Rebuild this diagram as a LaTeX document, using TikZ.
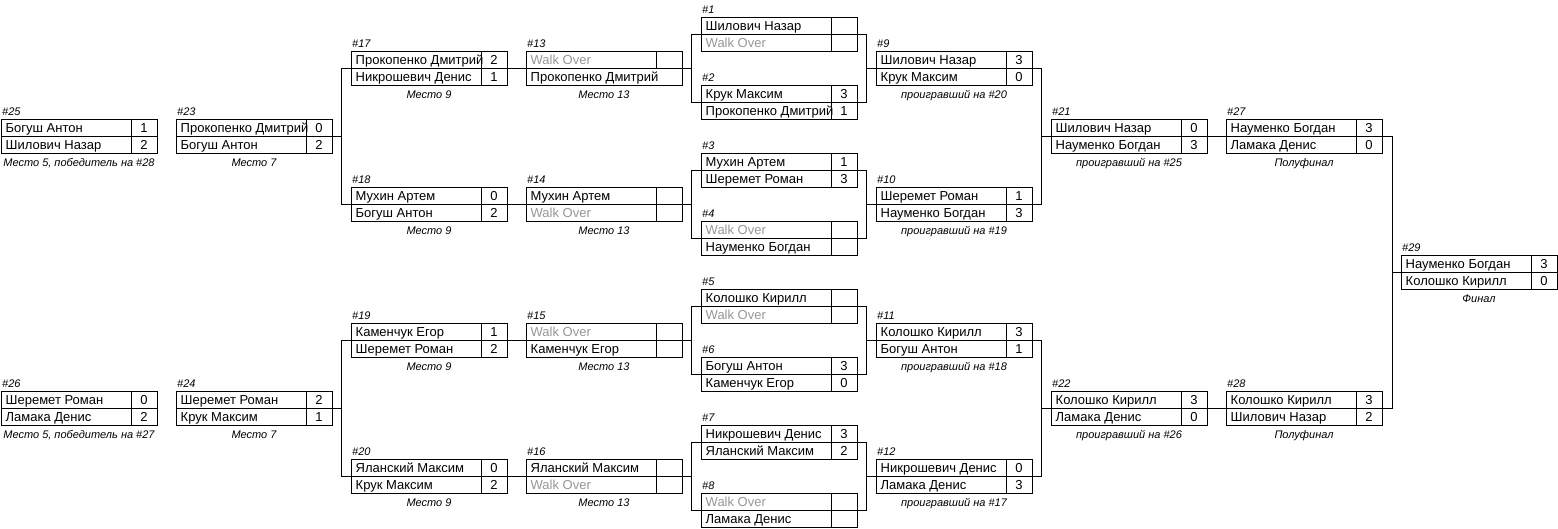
\documentclass[tikz,border=0pt]{standalone}
\usepackage{fontspec}
\setmainfont{Liberation Sans}
\usetikzlibrary{calc}
\definecolor{wogray}{RGB}{150,150,150}
\newcommand\wo{\textcolor{wogray}{Walk Over}}
\newif\ifhidebot
\tikzset{
  conn/.style={line width=1pt, black},
  matchbox/.style={draw, line width=1pt, minimum width=156pt, minimum height=34pt, inner sep=0pt},
  nm/.style={anchor=west, inner sep=0pt, font=\fontsize{13}{13}\selectfont, text height=9.3pt, text depth=0pt},
  sc/.style={anchor=center, inner sep=0pt, font=\fontsize{13}{13}\selectfont, text height=9.3pt, text depth=0pt},
  lbl/.style={anchor=west, inner sep=0pt, font=\fontsize{11}{11}\itshape, text height=8pt, text depth=0pt},
  captxt/.style={anchor=center, inner sep=0pt, font=\fontsize{11}{11}\itshape, text height=8pt, text depth=0pt}
}
\newcommand\match[9]{%
  \pgfmathsetmacro\mL{175*#2+1}%
  \pgfmathsetmacro\mT{17+17*#3}%
  \node[matchbox] (#1) at (\mL+78,\mT+17) {};
  \draw[conn] (\mL,\mT+17) -- (\mL+156,\mT+17);
  \draw[conn] (\mL+130,\mT) -- (\mL+130,\mT+17);
  \ifhidebot\else\draw[conn] (\mL+130,\mT+17) -- (\mL+130,\mT+34);\fi
  \node[nm] (#1a) at (\mL+4.5,\mT+9.3) {#5};
  \node[sc] (#1b) at (\mL+143,\mT+9.3) {#6};
  \node[nm] (#1c) at (\mL+4.5,\mT+26.3) {#7};
  \node[sc] (#1d) at (\mL+143,\mT+26.3) {#8};
  \node[lbl] (#1n) at (\mL+1,\mT-7.7) {\##4};
  \node[captxt] (#1t) at (\mL+78,\mT+43.8) {#9};
}
\begin{document}
\begin{tikzpicture}[x=1pt,y=-1pt]
\useasboundingbox (0,0) rectangle (1558,528);
% column 0
\match{m25}{0}{6}{25}{Богуш Антон}{1}{Шилович Назар}{2}{Место 5, победитель на \#28}
\match{m26}{0}{22}{26}{Шеремет Роман}{0}{Ламака Денис}{2}{Место 5, победитель на \#27}
% column 1
\match{m23}{1}{6}{23}{Прокопенко Дмитрий}{0}{Богуш Антон}{2}{Место 7}
\match{m24}{1}{22}{24}{Шеремет Роман}{2}{Крук Максим}{1}{Место 7}
% column 2
\match{m17}{2}{2}{17}{Прокопенко Дмитрий}{2}{Никрошевич Денис}{1}{Место 9}
\match{m18}{2}{10}{18}{Мухин Артем}{0}{Богуш Антон}{2}{Место 9}
\match{m19}{2}{18}{19}{Каменчук Егор}{1}{Шеремет Роман}{2}{Место 9}
\match{m20}{2}{26}{20}{Яланский Максим}{0}{Крук Максим}{2}{Место 9}
% column 3
\hidebottrue
\match{m13}{3}{2}{13}{\wo}{}{Прокопенко Дмитрий}{}{Место 13}
\hidebotfalse
\match{m14}{3}{10}{14}{Мухин Артем}{}{\wo}{}{Место 13}
\match{m15}{3}{18}{15}{\wo}{}{Каменчук Егор}{}{Место 13}
\match{m16}{3}{26}{16}{Яланский Максим}{}{\wo}{}{Место 13}
% column 4
\match{m1}{4}{0}{1}{Шилович Назар}{}{\wo}{}{}
\match{m2}{4}{4}{2}{Крук Максим}{3}{Прокопенко Дмитрий}{1}{}
\match{m3}{4}{8}{3}{Мухин Артем}{1}{Шеремет Роман}{3}{}
\match{m4}{4}{12}{4}{\wo}{}{Науменко Богдан}{}{}
\match{m5}{4}{16}{5}{Колошко Кирилл}{}{\wo}{}{}
\match{m6}{4}{20}{6}{Богуш Антон}{3}{Каменчук Егор}{0}{}
\match{m7}{4}{24}{7}{Никрошевич Денис}{3}{Яланский Максим}{2}{}
\match{m8}{4}{28}{8}{\wo}{}{Ламака Денис}{}{}
% column 5
\match{m9}{5}{2}{9}{Шилович Назар}{3}{Крук Максим}{0}{проигравший на \#20}
\match{m10}{5}{10}{10}{Шеремет Роман}{1}{Науменко Богдан}{3}{проигравший на \#19}
\match{m11}{5}{18}{11}{Колошко Кирилл}{3}{Богуш Антон}{1}{проигравший на \#18}
\match{m12}{5}{26}{12}{Никрошевич Денис}{0}{Ламака Денис}{3}{проигравший на \#17}
% column 6
\match{m21}{6}{6}{21}{Шилович Назар}{0}{Науменко Богдан}{3}{проигравший на \#25}
\match{m22}{6}{22}{22}{Колошко Кирилл}{3}{Ламака Денис}{0}{проигравший на \#26}
% column 7
\match{m27}{7}{6}{27}{Науменко Богдан}{3}{Ламака Денис}{0}{Полуфинал}
\match{m28}{7}{22}{28}{Колошко Кирилл}{3}{Шилович Назар}{2}{Полуфинал}
% column 8
\match{m29}{8}{14}{29}{Науменко Богдан}{3}{Колошко Кирилл}{0}{Финал}

% bracket junctions
\coordinate (r1) at (866,68);
\coordinate (l1) at (691.5,68);
\coordinate (r2) at (866,204);
\coordinate (l2) at (691.5,204);
\coordinate (r3) at (866,340);
\coordinate (l3) at (691.5,340);
\coordinate (r4) at (866,476);
\coordinate (l4) at (691.5,476);
\coordinate (f1) at (1041.5,136);
\coordinate (f2) at (1041.5,408);
\coordinate (h1) at (1392.5,272);
\coordinate (c1) at (341.5,136);
\coordinate (c2) at (341.5,408);

% first round brackets
\draw[conn] (m1.east) -| (r1) |- (m2.east);
\draw[conn] (r1) -- (m9.west);
\draw[conn] (m1.west) -| (l1) |- (m2.west);
\draw[conn] (l1) -- (m13.east);
\draw[conn] (m3.east) -| (r2) |- (m4.east);
\draw[conn] (r2) -- (m10.west);
\draw[conn] (m3.west) -| (l2) |- (m4.west);
\draw[conn] (l2) -- (m14.east);
\draw[conn] (m5.east) -| (r3) |- (m6.east);
\draw[conn] (r3) -- (m11.west);
\draw[conn] (m5.west) -| (l3) |- (m6.west);
\draw[conn] (l3) -- (m15.east);
\draw[conn] (m7.east) -| (r4) |- (m8.east);
\draw[conn] (r4) -- (m12.west);
\draw[conn] (m7.west) -| (l4) |- (m8.west);
\draw[conn] (l4) -- (m16.east);
% winners side
\draw[conn] (m9.east) -| (f1) |- (m10.east);
\draw[conn] (f1) -- (m21.west);
\draw[conn] (m11.east) -| (f2) |- (m12.east);
\draw[conn] (f2) -- (m22.west);
\draw[conn] (m21.east) -- (m27.west);
\draw[conn] (m22.east) -- (m28.west);
\draw[conn] (m27.east) -| (h1) |- (m28.east);
\draw[conn] (h1) -- (m29.west);
% losers side
\draw[conn] (m13.west) -- (m17.east);
\draw[conn] (m14.west) -- (m18.east);
\draw[conn] (m15.west) -- (m19.east);
\draw[conn] (m16.west) -- (m20.east);
\draw[conn] (m17.west) -| (c1) |- (m18.west);
\draw[conn] (c1) -- (m23.east);
\draw[conn] (m19.west) -| (c2) |- (m20.west);
\draw[conn] (c2) -- (m24.east);
\end{tikzpicture}
\end{document}
